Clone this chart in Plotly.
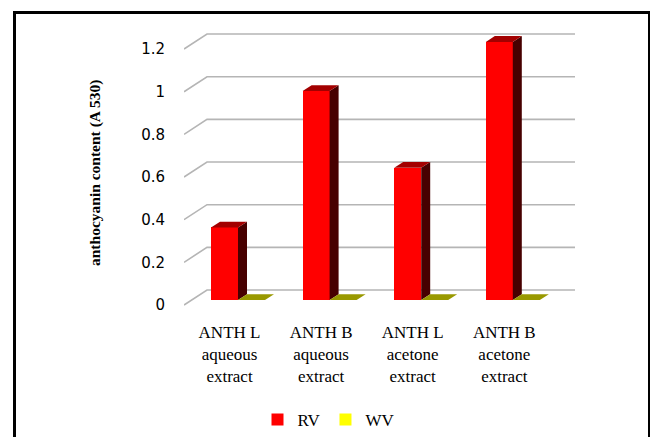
import plotly.graph_objects as go

# ---------------- data ----------------
categories = [
    "ANTH L<br>aqueous<br>extract",
    "ANTH B<br>aqueous<br>extract",
    "ANTH L<br>acetone<br>extract",
    "ANTH B<br>acetone<br>extract",
]
series_names = ["RV", "WV"]
rv_values = [0.34, 0.98, 0.62, 1.21]
wv_values = [0.0, 0.0, 0.0, 0.0]
y_tick_values = [0, 0.2, 0.4, 0.6, 0.8, 1.0, 1.2]
y_tick_labels = ["0", "0.2", "0.4", "0.6", "0.8", "1", "1.2"]
y_title = "anthocyanin content (A 530)"

# ---------------- styling / geometry ----------------
W, H = 650, 437
PL, PR, PT, PB = 184, 576, 25, 310          # plot area in pixels
X_RANGE = [-0.4967, 3.7828]
Y_RANGE = [-0.0469, 1.2893]
XPX = (PR - PL) / (X_RANGE[1] - X_RANGE[0])
YPX = (PB - PT) / (Y_RANGE[1] - Y_RANGE[0])

GX, GY = 23 / XPX, 15 / YPX                  # depth of the 3-D wall
BX, BY = 9 / XPX, 5.8 / YPX                  # depth of each column
BW = 27 / XPX                                # column width
RV_OFF = -5 / XPX                            # RV column centre offset
WV_OFF = RV_OFF + BW

RED, RED_TOP, RED_SIDE = "#FF0000", "#A30000", "#470000"
YEL, YEL_TOP, YEL_SIDE = "#FFFF00", "#999900", "#5C5C00"
GRID = "#B5B5B5"
SERIF = "Liberation Serif, Times New Roman, serif"
SANS = "DejaVu Sans, Verdana, sans-serif"

fig = go.Figure()

idx = list(range(len(categories)))

# front faces
fig.add_trace(go.Bar(
    x=[i + RV_OFF for i in idx], y=rv_values, width=BW, name=series_names[0],
    marker=dict(color=RED, line=dict(width=0)), hoverinfo="skip"))
fig.add_trace(go.Bar(
    x=[i + WV_OFF for i in idx], y=wv_values, width=BW, name=series_names[1],
    marker=dict(color=YEL, line=dict(width=0)), hoverinfo="skip"))


def faces(xc, v, top_col, side_col):
    xl, xr = xc - BW / 2, xc + BW / 2
    if v > 0:
        fig.add_trace(go.Scatter(
            x=[xr, xr + BX, xr + BX, xr, xr], y=[0, BY, v + BY, v, 0],
            mode="lines", fill="toself", fillcolor=side_col,
            line=dict(width=0), showlegend=False, hoverinfo="skip"))
    fig.add_trace(go.Scatter(
        x=[xl, xl + BX, xr + BX, xr, xl], y=[v, v + BY, v + BY, v, v],
        mode="lines", fill="toself", fillcolor=top_col,
        line=dict(width=0), showlegend=False, hoverinfo="skip"))


for i in idx:
    faces(i + RV_OFF, rv_values[i], RED_TOP, RED_SIDE)
    faces(i + WV_OFF, wv_values[i], YEL_TOP, YEL_SIDE)

# 3-D gridlines (left wall diagonal + back wall line)
shapes = []
x_front = X_RANGE[0]
x_back = X_RANGE[0] + GX
x_end = X_RANGE[1] - 1 / XPX
for v in y_tick_values:
    yf = v - GY / 3
    yb = v + 2 * GY / 3
    shapes.append(dict(
        type="path", xref="x", yref="y", layer="below",
        path=f"M {x_front},{yf} L {x_back},{yb} L {x_end},{yb}",
        line=dict(color=GRID, width=1.6)))

# outer frame
shapes.append(dict(
    type="rect", xref="paper", yref="paper", layer="above",
    x0=(14.5 - PL) / (PR - PL), x1=(649.5 - PL) / (PR - PL),
    y0=(PB - 12.5) / (PB - PT), y1=(PB - 445) / (PB - PT),
    line=dict(color="black", width=3), fillcolor="rgba(0,0,0,0)"))

fig.update_layout(
    width=W, height=H, autosize=False,
    margin=dict(l=PL, r=W - PR, t=PT, b=H - PB, pad=0, autoexpand=False),
    paper_bgcolor="white", plot_bgcolor="white",
    barmode="overlay", bargap=0,
    shapes=shapes,
    showlegend=True,
    legend=dict(
        orientation="h", x=(329 - PL) / (PR - PL), xanchor="center",
        y=(PB - 420) / (PB - PT), yanchor="middle",
        font=dict(family=SERIF, size=17, color="black"),
        bgcolor="rgba(0,0,0,0)", itemwidth=30, traceorder="normal"),
    xaxis=dict(
        range=X_RANGE, tickvals=idx, ticktext=categories, tickangle=0,
        showgrid=False, zeroline=False, showline=False, ticks="",
        tickfont=dict(family=SERIF, size=17, color="black"),
        ticklabelstandoff=10, automargin=False, fixedrange=True),
    yaxis=dict(
        range=Y_RANGE, tickvals=y_tick_values, ticktext=y_tick_labels,
        showgrid=False, zeroline=False, showline=False, ticks="",
        tickfont=dict(family=SANS, size=15, color="black"),
        ticklabelstandoff=18, ticklabelshift=5, automargin=False,
        fixedrange=True),
    annotations=[dict(
        text=y_title, xref="paper", yref="paper",
        x=(95 - PL) / (PR - PL), y=(PB - 173) / (PB - PT),
        xanchor="center", yanchor="middle", textangle=-90, showarrow=False,
        font=dict(family=SERIF, size=15.5, color="black", weight="bold"))],
)

fig.write_html("out.html")
